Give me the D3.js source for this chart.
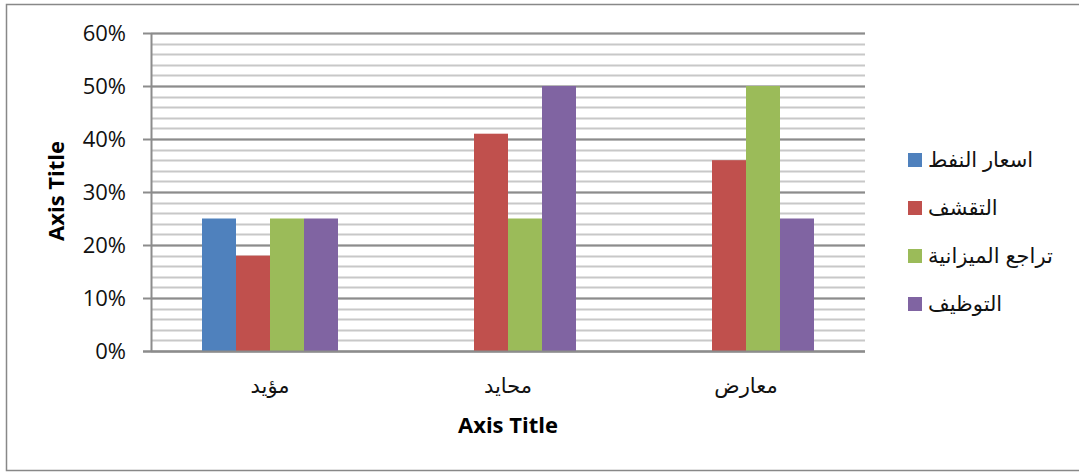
<!DOCTYPE html>
<html>
<head>
<meta charset="utf-8">
<script src="https://cdn.jsdelivr.net/npm/d3@7"></script>
<style>
  body { margin: 0; background: #fff; }
  text { font-family: "Open Sans", "Liberation Sans", "DejaVu Sans", sans-serif; }
  .ar { font-family: "Liberation Sans", "DejaVu Sans", sans-serif; }
</style>
</head>
<body>
<svg id="chart" width="1079" height="473"></svg>
<script>
// categories along x, and the four series
var categories = ["مؤيد", "محايد", "معارض"];
var seriesNames = ["اسعار النفط", "التقشف", "تراجع الميزانية", "التوظيف"];
var seriesColors = ["#4f81bd", "#c0504d", "#9bbb59", "#8064a2"];
var oilPrices = [0.25, 0, 0];
var austerity = [0.18, 0.41, 0.36];
var budgetDecline = [0.25, 0.25, 0.50];
var employment = [0.25, 0.50, 0.25];
var yTicks = [0, 0.1, 0.2, 0.3, 0.4, 0.5, 0.6];

var allSeries = [oilPrices, austerity, budgetDecline, employment];

var svg = d3.select("#chart");

// outer chart border
svg.append("rect")
   .attr("x", 6.5).attr("y", 4.5)
   .attr("width", 1090).attr("height", 466)
   .attr("fill", "white")
   .attr("stroke", "#888").attr("stroke-width", 1.5);

var plotL = 151, plotR = 865, plotT = 33, plotB = 351;

var y = d3.scaleLinear().domain([0, 0.6]).range([plotB, plotT]);
var x0 = d3.scaleBand().domain(categories).range([plotL, plotR]);
// bars are 34px wide, 136 per group, centred in the band
var x1 = d3.scaleBand().domain(d3.range(seriesNames.length))
           .range([(x0.bandwidth() - 136) / 2, (x0.bandwidth() + 136) / 2]);

// minor gridlines every 2%
var minor = d3.range(0, 0.6001, 0.02);
svg.append("g").selectAll("line").data(minor).join("line")
   .attr("x1", plotL).attr("x2", plotR)
   .attr("y1", function(d){ return Math.round(y(d)) + 0.5; })
   .attr("y2", function(d){ return Math.round(y(d)) + 0.5; })
   .attr("stroke", "#c8c8c8").attr("stroke-width", 2);

// major gridlines
svg.append("g").selectAll("line").data(yTicks).join("line")
   .attr("x1", plotL - 8).attr("x2", plotR)
   .attr("y1", function(d){ return Math.round(y(d)) + 0.5; })
   .attr("y2", function(d){ return Math.round(y(d)) + 0.5; })
   .attr("stroke", "#8c8c8c").attr("stroke-width", 2);

// bars
var groups = svg.append("g").selectAll("g").data(categories).join("g")
   .attr("transform", function(d){ return "translate(" + x0(d) + ",0)"; });

groups.selectAll("rect")
   .data(function(d, i){ return allSeries.map(function(s, k){ return {k: k, v: s[i]}; }); })
   .join("rect")
   .attr("x", function(d){ return x1(d.k); })
   .attr("width", x1.bandwidth())
   .attr("y", function(d){ return y(d.v); })
   .attr("height", function(d){ return plotB - y(d.v); })
   .attr("fill", function(d){ return seriesColors[d.k]; });

// y axis line
svg.append("line")
   .attr("x1", plotL + 0.5).attr("x2", plotL + 0.5)
   .attr("y1", plotT).attr("y2", plotB + 1)
   .attr("stroke", "#8c8c8c").attr("stroke-width", 2);
// x axis line
svg.append("line")
   .attr("x1", plotL - 8).attr("x2", plotR)
   .attr("y1", plotB + 0.5).attr("y2", plotB + 0.5)
   .attr("stroke", "#8c8c8c").attr("stroke-width", 2);

// y tick labels
svg.append("g").selectAll("text").data(yTicks).join("text")
   .attr("x", 126).attr("y", function(d){ return y(d) + 8; })
   .attr("text-anchor", "end")
   .attr("font-size", 22).attr("fill", "#111")
   .text(d3.format(".0%"));

// category labels
svg.append("g").selectAll("text").data(categories).join("text")
   .attr("class", "ar")
   .attr("x", function(d){ return x0(d) + x0.bandwidth() / 2; })
   .attr("y", 393)
   .attr("text-anchor", "middle")
   .attr("font-size", 21).attr("fill", "#111")
   .text(function(d){ return d; });

// axis titles
svg.append("text")
   .attr("x", 508).attr("y", 433)
   .attr("text-anchor", "middle")
   .attr("font-size", 22).attr("font-weight", "bold")
   .text("Axis Title");

svg.append("text")
   .attr("transform", "translate(64,191) rotate(-90)")
   .attr("text-anchor", "middle")
   .attr("font-size", 22).attr("font-weight", "bold")
   .text("Axis Title");

// legend
var legend = svg.append("g").selectAll("g").data(seriesNames).join("g")
   .attr("transform", function(d, i){ return "translate(908," + (153 + i * 48) + ")"; });

legend.append("rect")
   .attr("x", 0).attr("y", 0).attr("width", 14).attr("height", 14)
   .attr("fill", function(d, i){ return seriesColors[i]; });

legend.append("text")
   .attr("class", "ar")
   .attr("x", 20).attr("y", 14)
   .attr("font-size", 21).attr("fill", "#111")
   .attr("direction", "rtl").attr("text-anchor", "end")
   .text(function(d){ return d; });
</script>
</body>
</html>
